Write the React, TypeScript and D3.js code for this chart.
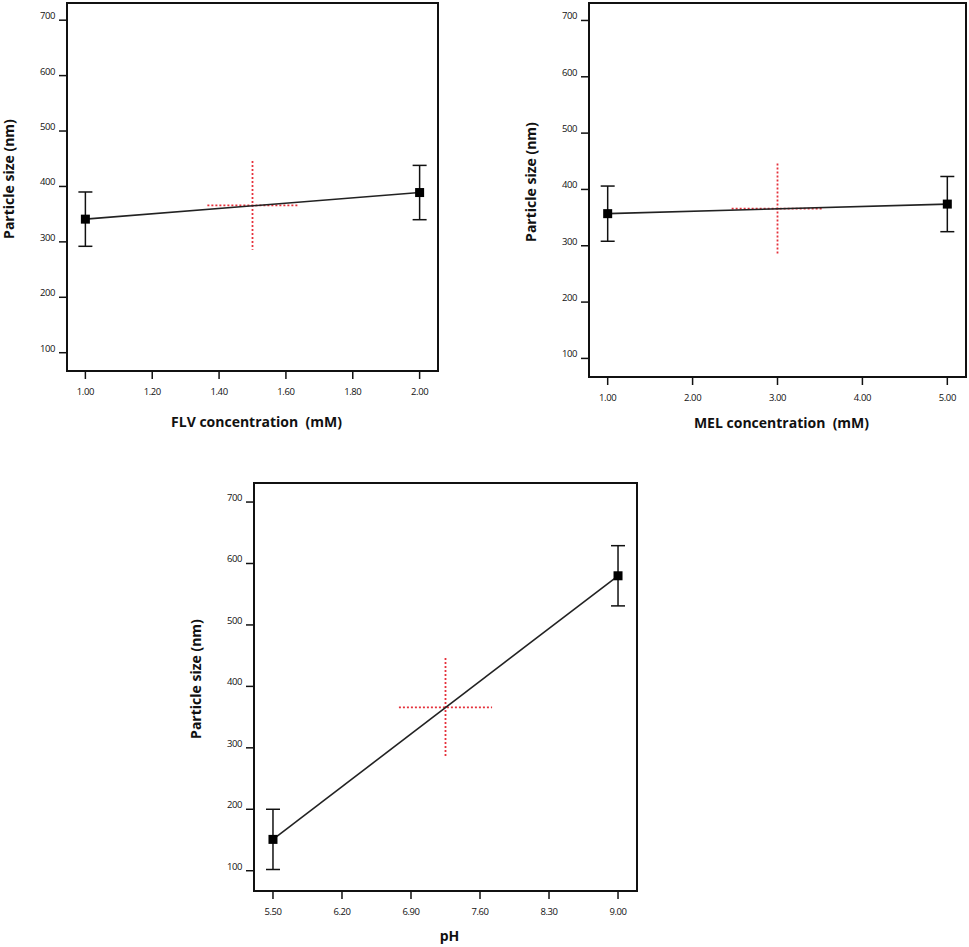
import * as d3 from 'd3';

// y axis (shared by all three panels)
const yTicks = [100, 200, 300, 400, 500, 600, 700];
const yExtent = [67, 731];
const yTitle = 'Particle size (nm)';

// FLV panel
const flvLevels = [1.0, 2.0];
const flvSize = [341, 389];
const flvErr = [49, 49];
const flvTicks = [1.0, 1.2, 1.4, 1.6, 1.8, 2.0];
const flvCenter = [1.5, 366];

// MEL panel
const melLevels = [1.0, 5.0];
const melSize = [357, 374];
const melErr = [49, 49];
const melTicks = [1.0, 2.0, 3.0, 4.0, 5.0];
const melCenter = [3.0, 366];

// pH panel
const phLevels = [5.5, 9.0];
const phSize = [151, 580];
const phErr = [49, 49];
const phTicks = [5.5, 6.2, 6.9, 7.6, 8.3, 9.0];
const phCenter = [7.25, 366];

// LSD bar at the centre point
const centerErr = 80;

const FONT = '"Open Sans", "DejaVu Sans", sans-serif';

type Box = { left: number; top: number; right: number; bottom: number };
type PanelProps = {
  box: Box;
  levels: number[];
  sizes: number[];
  errs: number[];
  ticks: number[];
  center: number[];
  xTitle: string;
  titleGap: number;
};

const Panel = ({ box, levels, sizes, errs, ticks, center, xTitle, titleGap }: PanelProps) => {
  const w = box.right - box.left;
  const h = box.bottom - box.top;
  const [lo, hi] = d3.extent(levels) as [number, number];
  const pad = (hi - lo) * 0.055;
  const xScale = d3.scaleLinear().domain([lo - pad, hi + pad]).range([0, w]);
  const yScale = d3.scaleLinear().domain(yExtent).range([h, 0]);

  const pts = levels.map((x, i) => ({ x, y: sizes[i], e: errs[i] }));
  const linePath = d3
    .line<{ x: number; y: number }>()
    .x((d) => xScale(d.x))
    .y((d) => yScale(d.y))(pts);

  const cx = xScale(center[0]);
  const cy = yScale(center[1]);
  const halfX = (hi - lo) * 0.135;

  return (
    <g transform={`translate(${box.left},${box.top})`}>
      {/* y axis */}
      {yTicks.map((t) => (
        <g key={t} transform={`translate(0,${yScale(t)})`}>
          <line x1={-8} x2={0} stroke="#111" strokeWidth={1.5} />
          <text
            x={-12}
            y={-1}
            textAnchor="end"
            fontSize={9.5}
            fontFamily={FONT}
            letterSpacing={-0.4}
            fill="#111"
          >
            {t}
          </text>
        </g>
      ))}
      {/* x axis */}
      {ticks.map((t) => (
        <g key={t} transform={`translate(${xScale(t)},${h})`}>
          <line y1={0} y2={8} stroke="#111" strokeWidth={1.5} />
          <text
            y={24}
            textAnchor="middle"
            fontSize={9.5}
            fontFamily={FONT}
            letterSpacing={-0.4}
            fill="#111"
          >
            {t.toFixed(2)}
          </text>
        </g>
      ))}

      {/* red centre cross */}
      <line
        x1={xScale(center[0] - halfX)}
        x2={xScale(center[0] + halfX)}
        y1={cy}
        y2={cy}
        stroke="#e5323c"
        strokeWidth={1.8}
        strokeDasharray="2 2"
      />
      <line
        x1={cx}
        x2={cx}
        y1={yScale(center[1] + centerErr)}
        y2={yScale(center[1] - centerErr)}
        stroke="#e5323c"
        strokeWidth={1.8}
        strokeDasharray="2 2"
      />

      {linePath && <path d={linePath} fill="none" stroke="#222" strokeWidth={1.6} />}

      {pts.map((p, i) => {
        const px = xScale(p.x);
        return (
          <g key={i}>
            <line x1={px} x2={px} y1={yScale(p.y + p.e)} y2={yScale(p.y - p.e)} stroke="#111" strokeWidth={1.5} />
            <line x1={px - 7} x2={px + 7} y1={yScale(p.y + p.e)} y2={yScale(p.y + p.e)} stroke="#111" strokeWidth={1.5} />
            <line x1={px - 7} x2={px + 7} y1={yScale(p.y - p.e)} y2={yScale(p.y - p.e)} stroke="#111" strokeWidth={1.5} />
            <rect x={px - 4.5} y={yScale(p.y) - 4.5} width={9} height={9} fill="#000" />
          </g>
        );
      })}

      <rect x={0} y={0} width={w} height={h} fill="none" stroke="#111" strokeWidth={2} />

      <text
        x={w / 2 + 4}
        y={h + titleGap}
        textAnchor="middle"
        fontSize={14}
        fontWeight="bold"
        fontFamily={FONT}
        fill="#111"
        style={{ whiteSpace: 'pre' }}
      >
        {xTitle}
      </text>
      <text
        transform={`translate(-53,${h / 2 - 8}) rotate(-90)`}
        textAnchor="middle"
        fontSize={14}
        fontWeight="bold"
        fontFamily={FONT}
        fill="#111"
      >
        {yTitle}
      </text>
    </g>
  );
};

const App = () => {
  return (
    <svg
      width={969}
      height={947}
      style={{ position: 'absolute', left: 0, top: 0, background: '#fff' }}
    >
      <Panel
        box={{ left: 67, top: 3, right: 438, bottom: 371 }}
        levels={flvLevels}
        sizes={flvSize}
        errs={flvErr}
        ticks={flvTicks}
        center={flvCenter}
        xTitle="FLV concentration  (mM)"
        titleGap={56}
      />
      <Panel
        box={{ left: 589, top: 3, right: 966, bottom: 377 }}
        levels={melLevels}
        sizes={melSize}
        errs={melErr}
        ticks={melTicks}
        center={melCenter}
        xTitle="MEL concentration  (mM)"
        titleGap={51}
      />
      <Panel
        box={{ left: 254, top: 483, right: 637, bottom: 891 }}
        levels={phLevels}
        sizes={phSize}
        errs={phErr}
        ticks={phTicks}
        center={phCenter}
        xTitle="pH"
        titleGap={50}
      />
    </svg>
  );
};

export default App;
